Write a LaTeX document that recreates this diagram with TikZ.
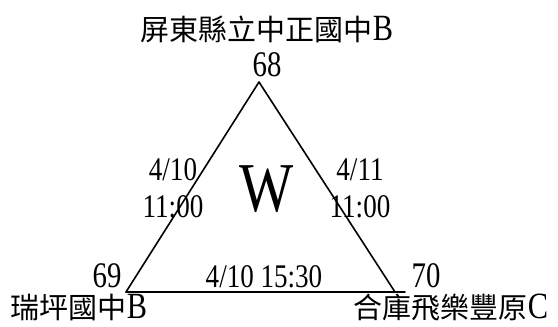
\documentclass[tikz,border=0pt]{standalone}
\usepackage{fontspec}
\setmainfont{Liberation Serif}[FakeStretch=0.82]
\newfontfamily\cjkfont{Noto Sans CJK TC}
\newfontfamily\numfont{Liberation Serif}[FakeStretch=0.8]
\newcommand\tail[1]{{\fontsize{37}{37}\selectfont #1}}

\begin{document}
\begin{tikzpicture}[line width=1.6pt, line cap=round, line join=round, x=1pt, y=1pt,
    team/.style={font=\fontsize{29}{34}\selectfont, inner sep=0pt, anchor=base},
    seed/.style={font=\numfont\fontsize{36}{40}\selectfont, inner sep=0pt},
    match/.style={font=\fontsize{33}{37}\selectfont, inner sep=0pt, align=center}]
  \useasboundingbox (0,0) rectangle (558,327);
  % Corners of the group triangle.
  \coordinate (top) at (259,245);
  \coordinate (left) at (126,35);
  \coordinate (right) at (395,35);
  \coordinate (end) at (405,35);
  \draw (left) -- (top) -- (right);
  \draw (left) -- (end);
  % Teams and seeds.
  \node[team] (teamA) at (267,286) {{\cjkfont 屏東縣立中正國中}\tail{B}};
  \node[seed] (seedA) at (267,262) {68};
  \node[seed] (seedB) at (107,51) {69};
  \node[team] (teamB) at (79,8) {{\cjkfont 瑞坪國中}\tail{B}};
  \node[seed] (seedC) at (426,51) {70};
  \node[team] (teamC) at (451,8) {{\cjkfont 合庫飛樂豐原}\tail{C}};
  % Group letter.
  \node[font=\fontsize{70}{70}\selectfont, inner sep=0pt] (group) at (267,138) {W};
  % Match times.
  \node[match] (matchAB) at (173,139) {4/10\\11:00};
  \node[match] (matchAC) at (360,139) {4/11\\11:00};
  \node[match] (matchBC) at (264,50) {4/10 15:30};
\end{tikzpicture}
\end{document}
